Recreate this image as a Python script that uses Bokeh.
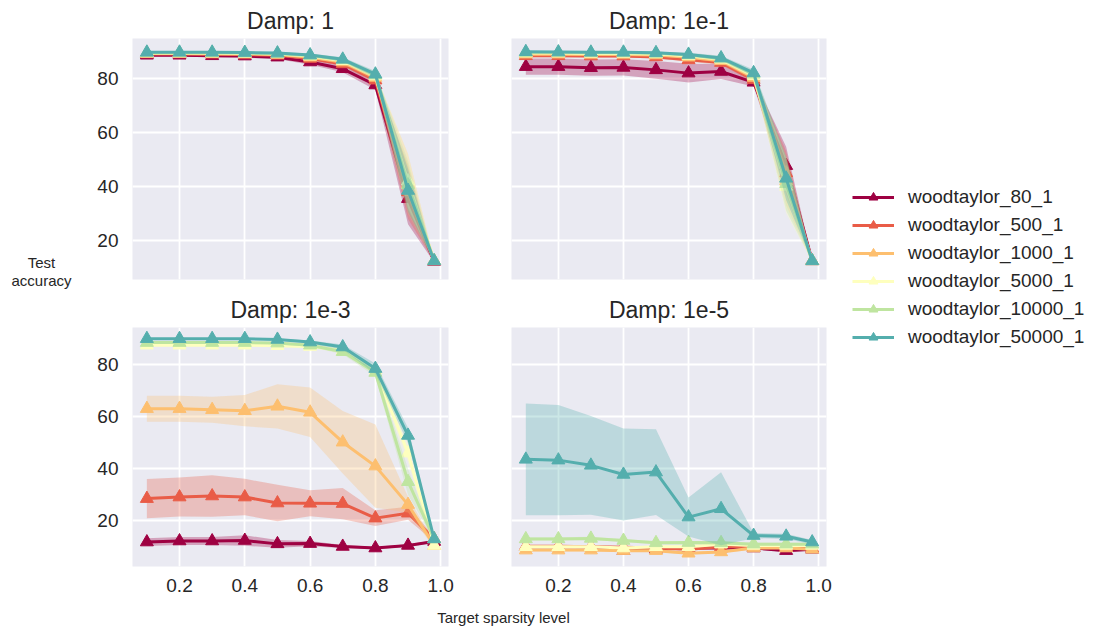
from bokeh.plotting import figure
from bokeh.layouts import row, column
from bokeh.models import Range1d, FixedTicker, Label, Legend, LegendItem, Title, PrintfTickFormatter
from bokeh.embed import file_html
from bokeh.resources import INLINE

FONT = "Liberation Sans"
TEXT = "#262626"

SPARSITY = [0.1, 0.2, 0.3, 0.4, 0.5, 0.6, 0.7, 0.8, 0.9, 0.98]
SERIES = ["woodtaylor_80_1", "woodtaylor_500_1", "woodtaylor_1000_1",
          "woodtaylor_5000_1", "woodtaylor_10000_1", "woodtaylor_50000_1"]
COLORS = ["#9e0142", "#e95c47", "#fdbf6f", "#feffbe", "#bfe5a0", "#54aead"]
X_TICKS = [0.2, 0.4, 0.6, 0.8, 1.0]
Y_TICKS = [20, 40, 60, 80]

# Damp: 1
DAMP_1_MEAN = {
    "woodtaylor_80_1":    [88.5, 88.5, 88.3, 88.2, 87.8, 86.0, 83.5, 77.5, 35.5, 12.3],
    "woodtaylor_500_1":   [89.0, 89.0, 88.9, 88.8, 88.5, 87.3, 85.3, 79.3, 38.0, 12.5],
    "woodtaylor_1000_1":  [89.2, 89.2, 89.1, 89.0, 88.8, 87.8, 86.0, 80.3, 41.0, 12.5],
    "woodtaylor_5000_1":  [89.3, 89.3, 89.3, 89.2, 89.0, 88.2, 86.5, 80.8, 42.0, 12.5],
    "woodtaylor_10000_1": [89.4, 89.4, 89.4, 89.3, 89.1, 88.4, 86.8, 81.2, 40.5, 12.5],
    "woodtaylor_50000_1": [89.6, 89.6, 89.6, 89.5, 89.3, 88.6, 87.0, 81.5, 38.5, 12.5],
}
DAMP_1_SPREAD = {
    "woodtaylor_80_1":    [0.5, 0.5, 0.5, 0.6, 0.7, 1.0, 1.3, 1.8, 9.5, 0.4],
    "woodtaylor_500_1":   [0.3, 0.3, 0.3, 0.3, 0.4, 0.6, 0.8, 1.2, 10.0, 0.3],
    "woodtaylor_1000_1":  [0.3, 0.3, 0.3, 0.3, 0.4, 0.6, 0.8, 1.2, 11.0, 0.3],
    "woodtaylor_5000_1":  [0.3, 0.3, 0.3, 0.3, 0.4, 0.6, 0.8, 1.2, 10.0, 0.3],
    "woodtaylor_10000_1": [0.3, 0.3, 0.3, 0.3, 0.4, 0.6, 0.8, 1.2, 9.0, 0.3],
    "woodtaylor_50000_1": [0.3, 0.3, 0.3, 0.3, 0.4, 0.6, 0.8, 1.2, 8.0, 0.3],
}

# Damp: 1e-1
DAMP_1E1_MEAN = {
    "woodtaylor_80_1":    [84.3, 84.3, 83.9, 84.0, 83.1, 81.9, 82.5, 78.5, 47.7, 12.5],
    "woodtaylor_500_1":   [88.3, 88.3, 88.2, 88.2, 87.9, 86.8, 85.8, 79.5, 45.0, 12.5],
    "woodtaylor_1000_1":  [88.9, 88.9, 88.8, 88.8, 88.6, 87.8, 86.5, 80.3, 42.0, 12.5],
    "woodtaylor_5000_1":  [89.3, 89.3, 89.2, 89.2, 89.0, 88.3, 87.0, 81.0, 40.0, 12.5],
    "woodtaylor_10000_1": [89.5, 89.5, 89.4, 89.4, 89.2, 88.6, 87.3, 81.5, 41.0, 12.5],
    "woodtaylor_50000_1": [89.8, 89.7, 89.6, 89.6, 89.4, 88.8, 87.5, 82.0, 43.0, 12.5],
}
DAMP_1E1_SPREAD = {
    "woodtaylor_80_1":    [3.0, 3.0, 3.0, 3.0, 3.3, 3.5, 2.8, 1.5, 7.0, 0.4],
    "woodtaylor_500_1":   [0.5, 0.5, 0.5, 0.5, 0.5, 0.7, 0.8, 1.2, 8.0, 0.3],
    "woodtaylor_1000_1":  [0.4, 0.4, 0.4, 0.4, 0.5, 0.6, 0.8, 1.2, 9.0, 0.3],
    "woodtaylor_5000_1":  [0.3, 0.3, 0.3, 0.3, 0.4, 0.6, 0.8, 1.2, 10.0, 0.3],
    "woodtaylor_10000_1": [0.3, 0.3, 0.3, 0.3, 0.4, 0.6, 0.8, 1.2, 10.0, 0.3],
    "woodtaylor_50000_1": [0.3, 0.3, 0.3, 0.3, 0.4, 0.6, 0.8, 1.2, 8.0, 0.3],
}

# Damp: 1e-3
DAMP_1E3_MEAN = {
    "woodtaylor_80_1":    [11.8, 12.2, 12.2, 12.4, 11.1, 11.2, 10.1, 9.5, 10.5, 12.0],
    "woodtaylor_500_1":   [28.5, 29.1, 29.5, 29.1, 26.8, 26.7, 26.6, 21.0, 22.9, 13.0],
    "woodtaylor_1000_1":  [63.1, 63.1, 62.7, 62.3, 64.0, 61.7, 50.2, 41.0, 26.2, 10.5],
    "woodtaylor_5000_1":  [87.5, 87.5, 87.5, 87.5, 87.3, 87.0, 85.5, 78.0, 46.0, 10.5],
    "woodtaylor_10000_1": [88.5, 88.5, 88.5, 88.5, 88.3, 87.5, 85.0, 77.0, 35.0, 13.0],
    "woodtaylor_50000_1": [90.0, 90.0, 90.0, 90.0, 89.7, 88.7, 86.8, 78.5, 52.8, 13.0],
}
DAMP_1E3_SPREAD = {
    "woodtaylor_80_1":    [1.5, 1.5, 1.5, 2.0, 1.5, 1.0, 0.6, 0.5, 0.5, 0.5],
    "woodtaylor_500_1":   [7.5, 7.5, 8.0, 7.0, 7.0, 5.0, 6.0, 3.0, 2.5, 1.0],
    "woodtaylor_1000_1":  [5.0, 5.0, 5.0, 6.0, 8.5, 9.5, 12.0, 16.0, 3.0, 1.0],
    "woodtaylor_5000_1":  [0.4, 0.4, 0.4, 0.4, 0.5, 0.6, 1.0, 1.5, 4.0, 0.5],
    "woodtaylor_10000_1": [0.4, 0.4, 0.4, 0.4, 0.5, 0.6, 1.0, 1.5, 5.0, 0.5],
    "woodtaylor_50000_1": [0.3, 0.3, 0.3, 0.3, 0.4, 0.6, 1.0, 2.0, 3.0, 0.5],
}

# Damp: 1e-5
DAMP_1E5_MEAN = {
    "woodtaylor_80_1":    [10.0, 10.0, 10.0, 8.5, 9.0, 9.5, 9.5, 9.5, 8.5, 9.0],
    "woodtaylor_500_1":   [10.2, 10.2, 10.0, 9.8, 9.5, 9.0, 10.0, 10.0, 9.8, 9.5],
    "woodtaylor_1000_1":  [8.7, 8.7, 8.7, 8.5, 8.5, 7.5, 8.0, 9.5, 9.5, 9.0],
    "woodtaylor_5000_1":  [10.0, 10.0, 10.0, 9.5, 10.0, 10.0, 11.0, 10.5, 10.5, 10.5],
    "woodtaylor_10000_1": [13.0, 13.0, 13.2, 12.4, 11.5, 11.6, 11.5, 11.0, 11.0, 11.0],
    "woodtaylor_50000_1": [43.6, 43.3, 41.3, 37.8, 38.7, 21.4, 24.6, 14.3, 14.0, 11.8],
}
DAMP_1E5_SPREAD = {
    "woodtaylor_80_1":    [0.5, 0.5, 0.5, 0.5, 0.5, 0.5, 0.5, 0.5, 0.5, 0.5],
    "woodtaylor_500_1":   [0.5, 0.5, 0.5, 0.5, 0.5, 0.5, 0.5, 0.5, 0.5, 0.5],
    "woodtaylor_1000_1":  [0.5, 0.5, 0.5, 0.5, 0.5, 0.5, 0.5, 0.5, 0.5, 0.5],
    "woodtaylor_5000_1":  [0.5, 0.5, 0.5, 0.5, 0.5, 0.5, 0.5, 0.5, 0.5, 0.5],
    "woodtaylor_10000_1": [0.6, 0.6, 0.6, 0.6, 0.6, 0.6, 0.6, 0.6, 0.6, 0.6],
    "woodtaylor_50000_1": [21.5, 21.2, 19.0, 17.7, 16.5, 7.5, 14.0, 1.0, 1.0, 0.8],
}

TITLES = ["Damp: 1", "Damp: 1e-1", "Damp: 1e-3", "Damp: 1e-5"]
X_RANGE = (0.056, 1.024)
Y_RANGE_TOP = (5.6, 94.7)
Y_RANGE_BOTTOM = (2.4, 94.3)

YLAB_W = 80
TOP_H = 38 + 241 + 10       # top row figure height
BOT_H = 38 + 239 + 40       # bottom row figure height
BODY_H = TOP_H + BOT_H      # 606
XLAB_H = 22


def panel(title, means, spreads, yr, fw, fh, bl, br, bt, bb, show_x, show_y):
    p = figure(frame_width=fw, frame_height=fh, min_border_left=bl,
               min_border_right=br, min_border_top=bt, min_border_bottom=bb,
               x_range=Range1d(*X_RANGE), y_range=Range1d(*yr),
               toolbar_location=None, output_backend="svg", title=None)
    p.background_fill_color = "#eaeaf2"
    p.border_fill_color = "white"
    p.outline_line_color = None
    for g in (p.xgrid[0], p.ygrid[0]):
        g.grid_line_color = "white"
        g.grid_line_width = 1.8
    p.xgrid.ticker = FixedTicker(ticks=X_TICKS)
    p.ygrid.ticker = FixedTicker(ticks=Y_TICKS)
    for ax, show, ticks in ((p.xaxis[0], show_x, X_TICKS), (p.yaxis[0], show_y, Y_TICKS)):
        ax.ticker = FixedTicker(ticks=ticks)
        ax.visible = show
        ax.axis_line_color = None
        ax.major_tick_line_color = None
        ax.minor_tick_line_color = None
        ax.major_tick_out = 0
        ax.major_tick_in = 0
        ax.minor_tick_out = 0
        ax.major_label_text_font = FONT
        ax.major_label_text_font_size = "19px"
        ax.major_label_text_color = TEXT
    p.xaxis.formatter = PrintfTickFormatter(format="%.1f")
    p.xaxis.major_label_standoff = 12
    p.yaxis.major_label_standoff = 14
    for name, color in zip(SERIES, COLORS):
        m = means[name]
        s = spreads[name]
        lo = [a - b for a, b in zip(m, s)]
        hi = [a + b for a, b in zip(m, s)]
        p.varea(x=SPARSITY, y1=lo, y2=hi, fill_color=color, fill_alpha=0.3)
        p.line(SPARSITY, m, line_color=color, line_width=3)
        p.scatter(SPARSITY, m, marker="triangle", size=13, color=color)
    p.add_layout(Title(text=title, align="center", text_font=FONT,
                       text_font_size="23px", text_color=TEXT,
                       text_font_style="normal", standoff=9), "above")
    return p


tl = panel(TITLES[0], DAMP_1_MEAN, DAMP_1_SPREAD, Y_RANGE_TOP, 316, 241, 132 - YLAB_W, 32, 38, 10, False, True)
tr = panel(TITLES[1], DAMP_1E1_MEAN, DAMP_1E1_SPREAD, Y_RANGE_TOP, 315, 241, 31, 20, 38, 10, False, False)
bl = panel(TITLES[2], DAMP_1E3_MEAN, DAMP_1E3_SPREAD, Y_RANGE_BOTTOM, 316, 239, 132 - YLAB_W, 32, 38, 40, True, True)
br = panel(TITLES[3], DAMP_1E5_MEAN, DAMP_1E5_SPREAD, Y_RANGE_BOTTOM, 315, 239, 31, 20, 38, 40, True, False)


def blank(w, h, xr=(0, 1), yr=(0, 1)):
    f = figure(frame_width=w, frame_height=h, min_border=0,
               x_range=Range1d(*xr), y_range=Range1d(*yr),
               x_axis_location=None, y_axis_location=None,
               toolbar_location=None, output_backend="svg", title=None)
    f.outline_line_color = None
    f.grid.visible = False
    f.background_fill_color = "white"
    f.border_fill_color = "white"
    return f


# y-axis label strip (centres of the two lines: page y 262 and 281)
ylab = blank(YLAB_W, BODY_H)
for txt, cy in (("Test", 262), ("accuracy", 280)):
    ylab.add_layout(Label(x=41, y=BODY_H - cy, x_units="screen", y_units="screen", text=txt,
                          text_align="center", text_baseline="middle",
                          text_font=FONT, text_font_size="15px", text_color=TEXT))

# legend figure (proxy renderers outside the visible range)
leg = blank(248, BODY_H, xr=(5, 6), yr=(500, 600))
items = []
for name, color in zip(SERIES, COLORS):
    r1 = leg.line(SPARSITY, DAMP_1E1_MEAN[name], line_color=color, line_width=3)
    r2 = leg.scatter(SPARSITY, DAMP_1E1_MEAN[name], marker="triangle", size=13, color=color)
    items.append(LegendItem(label=name, renderers=[r1, r2]))
legend = Legend(items=items, location=(6, 258), padding=0, margin=0,
                border_line_color=None, background_fill_alpha=0,
                spacing=6, glyph_height=22, label_height=22, glyph_width=42,
                label_standoff=14, label_text_font=FONT,
                label_text_font_size="19px", label_text_color=TEXT)
leg.add_layout(legend)

# x-axis label strip (centre at page y 617)
xl = blank(1094, XLAB_H)
xl.add_layout(Label(x=503, y=BODY_H + XLAB_H - 617, x_units="screen", y_units="screen",
                    text="Target sparsity level", text_align="center",
                    text_baseline="middle", text_font=FONT,
                    text_font_size="15px", text_color=TEXT))

layout = column(row(ylab, column(row(tl, tr), row(bl, br)), leg), xl)
open("out.html", "w").write(file_html(layout, INLINE))
